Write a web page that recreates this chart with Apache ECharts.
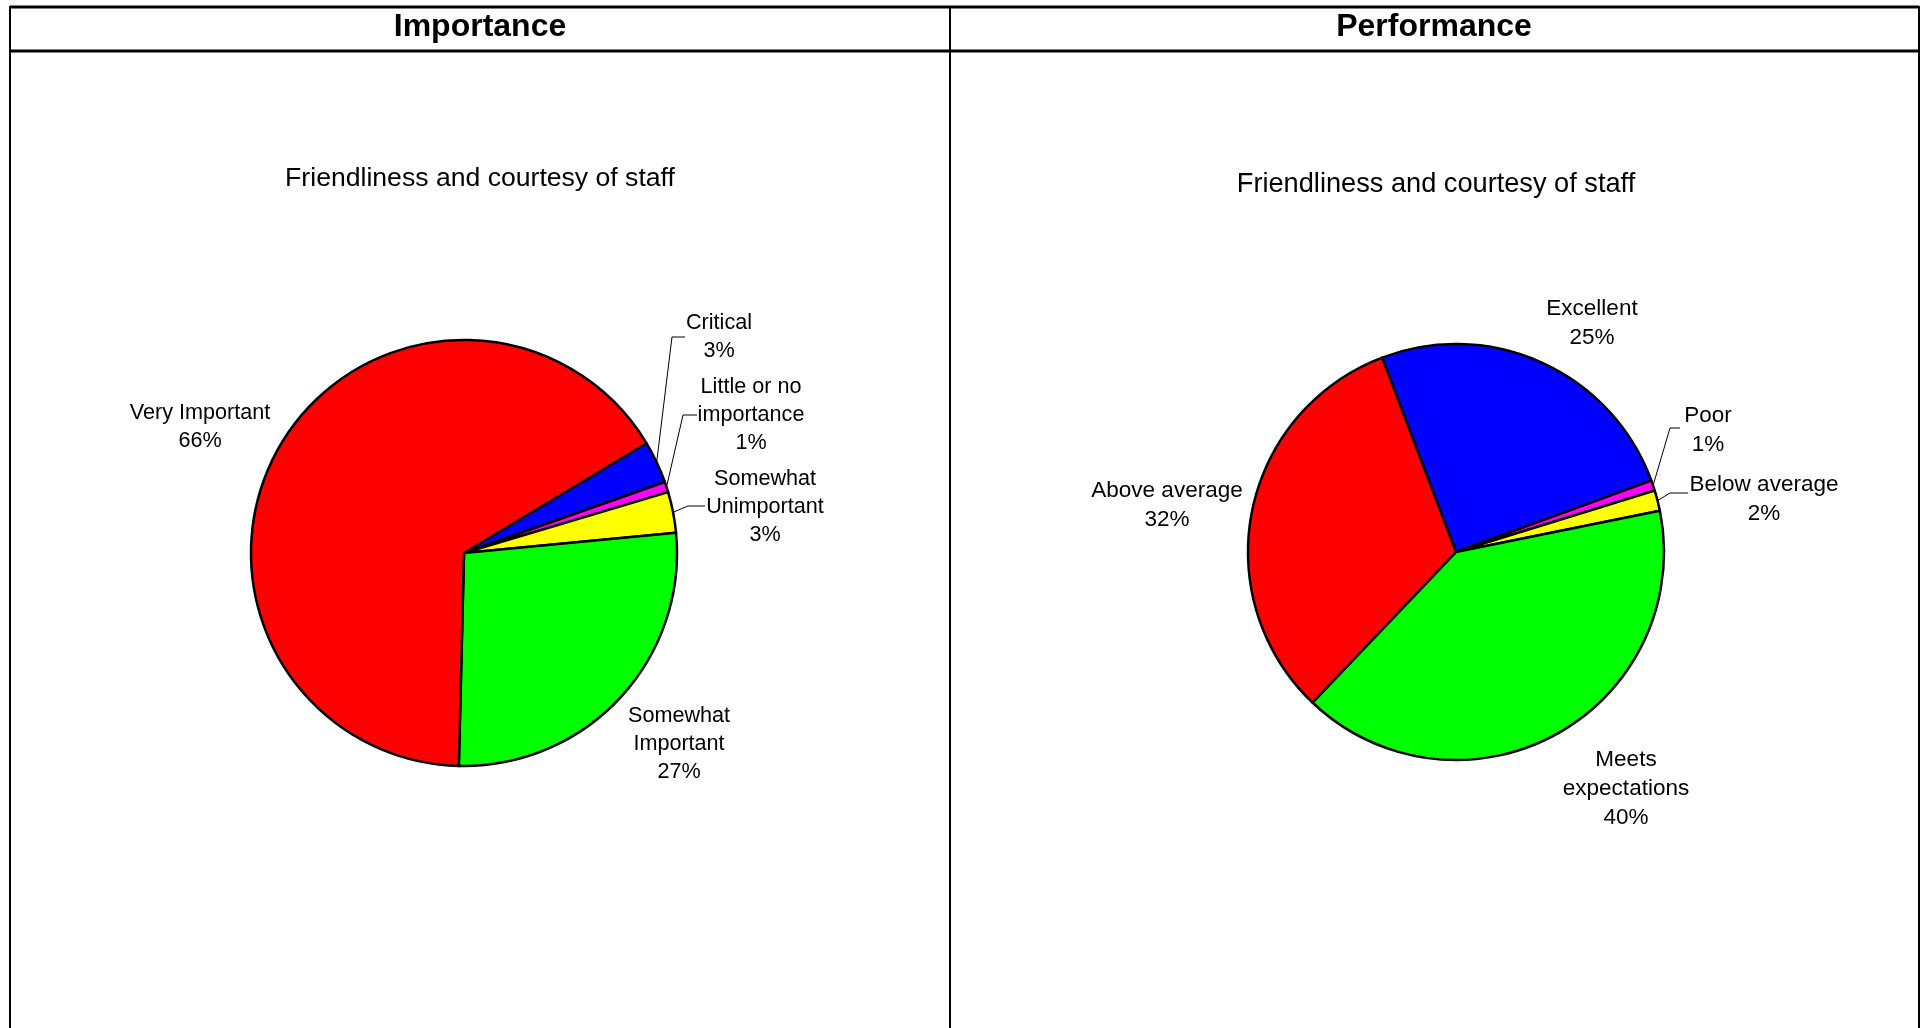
<!DOCTYPE html>
<html>
<head>
<meta charset="utf-8">
<title>Friendliness and courtesy of staff</title>
<script src="https://cdn.jsdelivr.net/npm/echarts@6/dist/echarts.min.js"></script>
<style>
  html, body { margin: 0; padding: 0; background: #fff; }
  #chart { width: 1925px; height: 1028px; }
</style>
</head>
<body>
<div id="chart"></div>
<script>
// data (percent of respondents)
var importanceNames = ['Critical', 'Little or no importance', 'Somewhat Unimportant', 'Somewhat Important', 'Very Important'];
var importanceLabels = ['Critical', 'Little or no\nimportance', 'Somewhat\nUnimportant', 'Somewhat\nImportant', 'Very Important'];
var importanceValues = [3.2, 0.8, 3.1, 26.9, 66.0];

var performanceNames = ['Excellent', 'Poor', 'Below average', 'Meets expectations', 'Above average'];
var performanceLabels = ['Excellent', 'Poor', 'Below average', 'Meets\nexpectations', 'Above average'];
var performanceValues = [25.2, 0.8, 1.6, 40.3, 32.1];

var importanceColors = ['#0000FF', '#FF00FF', '#FFFF00', '#00FF00', '#FF0000'];
var performanceColors = ['#0000FF', '#FF00FF', '#FFFF00', '#00FF00', '#FF0000'];

// label placement (page px): centre of text, plus leader elbow/end when there is one
var importanceLabelPos = [
    { x: 719, y: 337, line: [[672, 337], [685, 337]] },
    { x: 751, y: 415, line: [[683, 415], [697, 415]] },
    { x: 765, y: 507, line: [[688, 506], [705, 506]] },
    { x: 679, y: 744 },
    { x: 200, y: 427 }
];
var performanceLabelPos = [
    { x: 1592, y: 323 },
    { x: 1708, y: 430, line: [[1670, 428], [1680, 428]] },
    { x: 1764, y: 499, line: [[1670, 493], [1688, 493]] },
    { x: 1626, y: 789 },
    { x: 1167, y: 505 }
];

var FONT = '"Liberation Sans", Arial, sans-serif';

function buildData(names, values, colors, pos) {
    return names.map(function (n, i) {
        return {
            name: n,
            value: values[i],
            itemStyle: { color: colors[i] },
            labelLine: { show: !!pos[i].line }
        };
    });
}

function makeLayout(pos) {
    return function (params) {
        var p = pos[params.dataIndex];
        var res = { x: p.x, y: p.y, align: 'center', verticalAlign: 'middle' };
        if (p.line && params.labelLinePoints) {
            res.labelLinePoints = [params.labelLinePoints[0], p.line[0], p.line[1]];
        }
        return res;
    };
}

function pieSeries(name, center, radius, startAngle, fontSize, lineHeight, names, labels, values, colors, pos) {
    return {
        name: name,
        type: 'pie',
        center: center,
        radius: radius,
        startAngle: startAngle,
        clockwise: true,
        avoidLabelOverlap: false,
        silent: true,
        itemStyle: { borderColor: '#000', borderWidth: 2.5 },
        label: {
            show: true,
            position: 'outside',
            color: '#000',
            fontFamily: FONT,
            fontSize: fontSize,
            lineHeight: lineHeight,
            formatter: function (p) {
                return labels[p.dataIndex] + '\n' + Math.round(p.percent) + '%';
            }
        },
        labelLine: { lineStyle: { color: '#000', width: 1 }, length: 10, length2: 10 },
        labelLayout: makeLayout(pos),
        emphasis: { disabled: true },
        data: buildData(names, values, colors, pos)
    };
}

var myChart = echarts.init(document.getElementById('chart'));
myChart.setOption({
    animation: false,
    backgroundColor: '#fff',
    title: [
        { text: 'Importance', left: 475, top: 6, textAlign: 'center',
          textStyle: { fontFamily: FONT, fontSize: 32, fontWeight: 'bold', color: '#000' } },
        { text: 'Performance', left: 1429, top: 6, textAlign: 'center',
          textStyle: { fontFamily: FONT, fontSize: 32, fontWeight: 'bold', color: '#000' } },
        { text: 'Friendliness and courtesy of staff', left: 475, top: 160, textAlign: 'center',
          textStyle: { fontFamily: FONT, fontSize: 26.6, fontWeight: 'normal', color: '#000' } },
        { text: 'Friendliness and courtesy of staff', left: 1431, top: 166, textAlign: 'center',
          textStyle: { fontFamily: FONT, fontSize: 27.2, fontWeight: 'normal', color: '#000' } }
    ],
    graphic: [
        { type: 'line', shape: { x1: 10, y1: 7, x2: 1919, y2: 7 }, style: { stroke: '#000', lineWidth: 3 } },
        { type: 'line', shape: { x1: 10, y1: 51, x2: 1919, y2: 51 }, style: { stroke: '#000', lineWidth: 3 } },
        { type: 'line', shape: { x1: 10, y1: 6, x2: 10, y2: 1028 }, style: { stroke: '#000', lineWidth: 2 } },
        { type: 'line', shape: { x1: 950, y1: 6, x2: 950, y2: 1028 }, style: { stroke: '#000', lineWidth: 2 } },
        { type: 'line', shape: { x1: 1919, y1: 6, x2: 1919, y2: 1028 }, style: { stroke: '#000', lineWidth: 2 } }
    ],
    series: [
        pieSeries('Importance', [464, 553], 213, 31, 21.6, 28, importanceNames, importanceLabels,
            importanceValues, importanceColors, importanceLabelPos),
        pieSeries('Performance', [1456, 552], 208, 110.8, 22.5, 29, performanceNames, performanceLabels,
            performanceValues, performanceColors, performanceLabelPos)
    ]
});
window.addEventListener('resize', function () {
    myChart.resize();
});
</script>
</body>
</html>
